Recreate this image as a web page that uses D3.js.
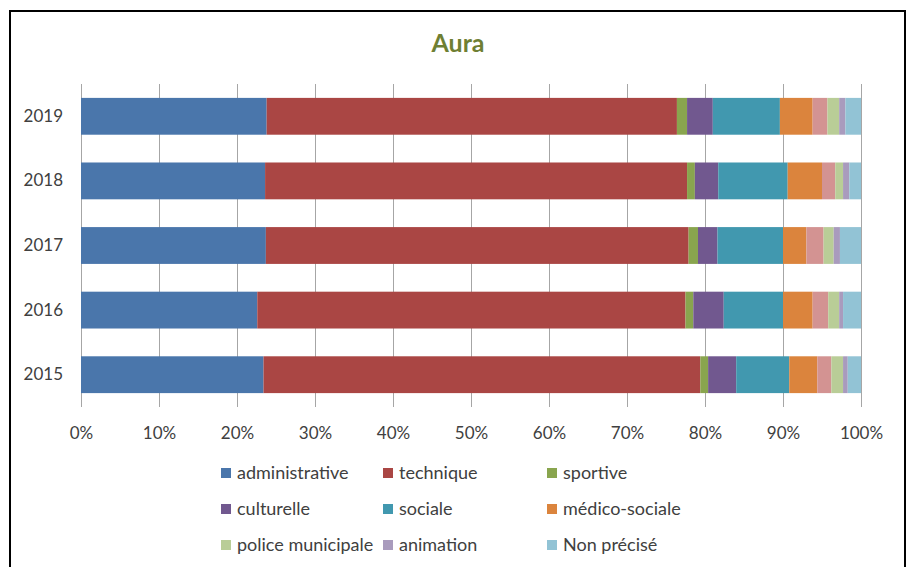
<!DOCTYPE html>
<html>
<head>
<meta charset="utf-8">
<script src="https://cdn.jsdelivr.net/npm/d3@7"></script>
<style>
  body { margin: 0; background: #fff; }
  svg { display: block; font-family: Lato, "Open Sans", sans-serif; }
</style>
</head>
<body>
<svg id="chart" width="909" height="567"></svg>
<script>
// categories (top to bottom)
const years = ["2019", "2018", "2017", "2016", "2015"];

// share of each filière, in %
const administrative = [23.8, 23.6, 23.7, 22.6, 23.4];
const technique      = [52.6, 54.1, 54.2, 54.9, 56.0];
const sportive       = [1.3, 1.0, 1.2, 1.0, 1.0];
const culturelle     = [3.3, 3.0, 2.5, 3.9, 3.6];
const sociale        = [8.6, 8.9, 8.4, 7.6, 6.8];
const medicoSociale  = [4.2, 4.4, 3.0, 3.8, 3.6];
const sansLegende    = [1.9, 1.7, 2.2, 2.0, 1.8];   // series without legend entry
const policeMun      = [1.5, 1.0, 1.3, 1.4, 1.5];
const animation      = [0.8, 0.8, 0.8, 0.5, 0.6];
const nonPrecise     = [2.0, 1.5, 2.7, 2.3, 1.7];

const xTicks = [0, 10, 20, 30, 40, 50, 60, 70, 80, 90, 100];

const series = [
  { key: "administrative",    values: administrative, color: "#4a76ab", legend: true },
  { key: "technique",         values: technique,      color: "#aa4644", legend: true },
  { key: "sportive",          values: sportive,       color: "#89a54e", legend: true },
  { key: "culturelle",        values: culturelle,     color: "#71588f", legend: true },
  { key: "sociale",           values: sociale,        color: "#4198af", legend: true },
  { key: "médico-sociale",    values: medicoSociale,  color: "#db843d", legend: true },
  { key: "autre",             values: sansLegende,    color: "#d39392", legend: false },
  { key: "police municipale", values: policeMun,      color: "#b9cd97", legend: true },
  { key: "animation",         values: animation,      color: "#a99bbd", legend: true },
  { key: "Non précisé",       values: nonPrecise,     color: "#92c3d5", legend: true }
];

// build table for d3.stack
const rows = years.map((y, i) => {
  const r = { year: y };
  series.forEach(s => { r[s.key] = s.values[i]; });
  return r;
});

const svg = d3.select("#chart");

// outer frame
svg.append("rect")
  .attr("x", 10).attr("y", 11)
  .attr("width", 895).attr("height", 600)
  .attr("fill", "none")
  .attr("stroke", "#000")
  .attr("stroke-width", 2);

// title
svg.append("text")
  .attr("x", 458).attr("y", 52)
  .attr("text-anchor", "middle")
  .attr("font-size", 25)
  .attr("font-weight", "bold")
  .attr("fill", "#6f7f33")
  .text("Aura");

const x = d3.scaleLinear().domain([0, 100]).range([81, 861]);
const y = d3.scaleBand().domain(years).range([84, 407])
  .paddingInner(0.43).paddingOuter(0.215);

// vertical grid lines
svg.append("g")
  .selectAll("line")
  .data(xTicks)
  .join("line")
  .attr("x1", d => x(d)).attr("x2", d => x(d))
  .attr("y1", 84).attr("y2", 407)
  .attr("stroke", "#a6a6a6")
  .attr("stroke-width", 1)
  .attr("shape-rendering", "crispEdges");

// stacked bars
const stack = d3.stack().keys(series.map(s => s.key));
const layers = stack(rows);

svg.append("g")
  .selectAll("g")
  .data(layers)
  .join("g")
  .attr("fill", (d, i) => series[i].color)
  .selectAll("rect")
  .data(d => d)
  .join("rect")
  .attr("x", d => x(d[0]))
  .attr("width", d => x(d[1]) - x(d[0]))
  .attr("y", d => y(d.data.year))
  .attr("height", y.bandwidth());

// x axis labels
const xAxis = d3.axisBottom(x)
  .tickValues(xTicks)
  .tickFormat(d => d + "%")
  .tickSize(0)
  .tickPadding(0);

const gx = svg.append("g")
  .attr("transform", "translate(0,427)")
  .call(xAxis);
gx.select(".domain").remove();
gx.selectAll("text")
  .attr("font-family", "Lato, 'Open Sans', sans-serif")
  .attr("font-size", 17)
  .attr("fill", "#404040");

// y axis labels
const yAxis = d3.axisLeft(y).tickSize(0).tickPadding(0);
const gy = svg.append("g")
  .attr("transform", "translate(63,0)")
  .call(yAxis);
gy.select(".domain").remove();
gy.selectAll("text")
  .attr("font-family", "Lato, 'Open Sans', sans-serif")
  .attr("font-size", 17)
  .attr("fill", "#404040");

// legend: 3 columns, 3 rows
const legendItems = series.filter(s => s.legend);
const colX = [221, 383, 547];
const rowY = [473, 509, 545];

const lg = svg.append("g")
  .selectAll("g")
  .data(legendItems)
  .join("g")
  .attr("transform", (d, i) => `translate(${colX[i % 3]},${rowY[Math.floor(i / 3)]})`);

lg.append("rect")
  .attr("x", 0).attr("y", -5)
  .attr("width", 10).attr("height", 10)
  .attr("fill", d => d.color);

lg.append("text")
  .attr("x", 16).attr("y", 0)
  .attr("dy", "0.35em")
  .attr("font-size", 18)
  .attr("fill", "#404040")
  .text(d => d.key);
</script>
</body>
</html>
